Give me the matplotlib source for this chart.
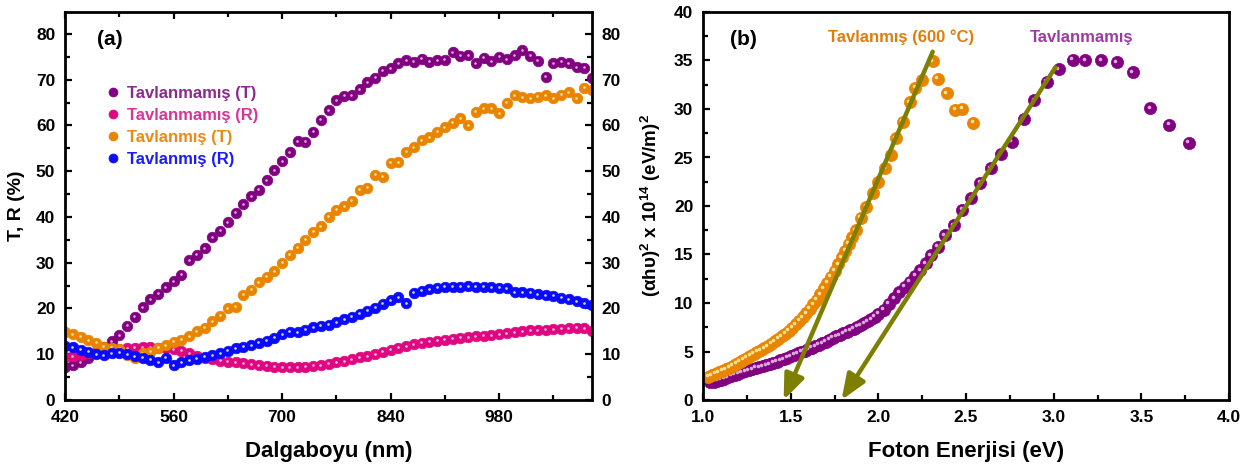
import numpy as np
import matplotlib
matplotlib.use('Agg')
import matplotlib.pyplot as plt
from matplotlib.ticker import MultipleLocator
from matplotlib.transforms import offset_copy

plt.rcParams['font.family'] = ['Liberation Sans', 'DejaVu Sans']
plt.rcParams['font.weight'] = 'bold'
plt.rcParams['axes.labelweight'] = 'bold'
plt.rcParams['mathtext.fontset'] = 'custom'
plt.rcParams['mathtext.rm'] = 'Liberation Sans:bold'
plt.rcParams['mathtext.bf'] = 'Liberation Sans:bold'
plt.rcParams['mathtext.it'] = 'Liberation Sans:bold'

# (a) gecirgenlik / yansima, 420-1100 nm, 10 nm aralik
dalga = np.arange(420, 1101, 10)
tav_yok_T = [7.2, 7.6, 8.3, 9.2, 10.3, 11.6, 12.8, 14.2, 16.2, 18.2,
             20.3, 22.0, 23.2, 24.6, 25.9, 27.4, 30.5, 31.7, 33.2, 35.6,
             37.0, 38.9, 40.9, 42.8, 44.5, 46.0, 48.0, 50.2, 52.2, 54.2,
             56.5, 56.4, 58.6, 61.2, 63.3, 65.5, 66.5, 66.6, 67.9, 69.5,
             70.4, 72.0, 72.5, 73.6, 74.3, 73.9, 74.6, 73.9, 74.3, 74.4,
             76.0, 75.2, 75.4, 73.6, 74.8, 74.0, 75.0, 74.5, 75.4, 76.4,
             75.2, 74.2, 70.6, 73.6, 73.9, 73.6, 72.7, 72.6, 70.4]
tav_yok_R = [9.4, 9.6, 9.9, 10.2, 10.5, 10.8, 11.0, 11.2, 11.3, 11.4,
             11.5, 11.5, 11.4, 11.3, 11.1, 10.8, 10.2, 9.6, 9.2, 8.9,
             8.6, 8.4, 8.2, 8.0, 7.8, 7.6, 7.5, 7.3, 7.2, 7.2,
             7.2, 7.3, 7.5, 7.6, 7.9, 8.2, 8.5, 8.9, 9.3, 9.6,
             10.0, 10.5, 11.0, 11.4, 11.8, 12.2, 12.5, 12.7, 13.0, 13.2,
             13.4, 13.6, 13.7, 13.9, 14.0, 14.2, 14.4, 14.6, 14.8, 15.0,
             15.2, 15.2, 15.3, 15.5, 15.6, 15.7, 15.8, 15.7, 15.0]
tav_T = [14.8, 14.4, 13.8, 13.1, 12.5, 11.6, 11.4, 11.2, 9.8, 9.2,
         10.2, 10.6, 11.4, 12.0, 12.7, 13.2, 13.9, 15.0, 15.8, 17.2,
         18.4, 20.1, 20.4, 23.0, 24.1, 25.7, 26.9, 28.1, 30.0, 31.8,
         33.3, 35.0, 36.8, 38.0, 40.0, 41.6, 42.4, 43.5, 46.0, 46.4,
         49.2, 48.8, 51.8, 52.0, 54.3, 55.2, 56.8, 57.4, 58.6, 59.6,
         60.6, 61.6, 60.1, 63.0, 63.8, 63.8, 62.7, 65.0, 66.6, 66.2,
         66.0, 66.3, 66.6, 66.0, 66.7, 67.3, 66.0, 68.2, 67.8]
tav_R = [11.8, 11.5, 11.0, 10.6, 10.0, 9.8, 10.2, 10.3, 10.0, 9.6,
         9.2, 8.8, 8.3, 9.2, 7.6, 8.3, 8.7, 9.0, 9.4, 9.8,
         10.2, 10.8, 11.3, 11.6, 12.0, 12.5, 13.0, 13.6, 14.4, 14.9,
         14.8, 15.4, 15.9, 16.2, 16.4, 17.0, 17.6, 18.2, 18.9, 19.5,
         20.2, 21.0, 21.8, 22.5, 21.2, 23.4, 23.9, 24.2, 24.5, 24.7,
         24.8, 24.8, 24.9, 24.8, 24.7, 24.6, 24.5, 24.4, 23.5, 23.6,
         23.4, 23.1, 22.9, 22.8, 22.4, 22.0, 21.6, 21.2, 20.8]
etiketler_a = ['Tavlanmamış (T)', 'Tavlanmamış (R)', 'Tavlanmış (T)', 'Tavlanmış (R)']

# (b) (ahv)^2 - foton enerjisi
E_tav = [1.03, 1.05, 1.07, 1.09, 1.11, 1.13, 1.15, 1.17, 1.19, 1.21,
         1.23, 1.25, 1.27, 1.29, 1.31, 1.33, 1.35, 1.37, 1.39, 1.41,
         1.43, 1.45, 1.47, 1.49, 1.51, 1.53, 1.55, 1.57, 1.59, 1.61,
         1.63, 1.65, 1.67, 1.69, 1.71, 1.73, 1.75, 1.77, 1.79, 1.81,
         1.83, 1.85, 1.87, 1.90, 1.93, 1.97, 2.00, 2.04, 2.07, 2.10,
         2.14, 2.18, 2.21, 2.25, 2.31, 2.34, 2.39, 2.44, 2.48, 2.54]
ahv_tav = [2.4, 2.55, 2.7, 2.85, 3.0, 3.15, 3.35, 3.55, 3.75, 3.95,
           4.15, 4.35, 4.55, 4.75, 4.95, 5.15, 5.35, 5.55, 5.8, 6.05,
           6.3, 6.55, 6.85, 7.15, 7.45, 7.8, 8.15, 8.55, 8.95, 9.4,
           9.85, 10.35, 10.9, 11.5, 12.1, 12.7, 13.3, 14.0, 14.7, 15.4,
           16.1, 16.8, 17.5, 18.8, 19.9, 21.3, 22.5, 23.9, 25.3, 27.0,
           28.7, 30.7, 32.2, 33.0, 34.9, 33.1, 31.6, 29.9, 30.0, 28.6]
E_yok = [1.04, 1.06, 1.08, 1.10, 1.12, 1.14, 1.16, 1.18, 1.20, 1.22,
         1.24, 1.26, 1.28, 1.30, 1.32, 1.34, 1.36, 1.38, 1.40, 1.42,
         1.44, 1.46, 1.48, 1.50, 1.52, 1.54, 1.56, 1.58, 1.60, 1.62,
         1.64, 1.66, 1.68, 1.70, 1.72, 1.74, 1.76, 1.78, 1.80, 1.82,
         1.84, 1.86, 1.88, 1.90, 1.92, 1.94, 1.96, 1.98, 2.00, 2.03,
         2.06, 2.09, 2.12, 2.15, 2.18, 2.21, 2.24, 2.27, 2.30, 2.34,
         2.38, 2.43, 2.48, 2.53, 2.58, 2.64, 2.70, 2.76, 2.83, 2.89,
         2.96, 3.03, 3.11, 3.18, 3.27, 3.36, 3.45, 3.55, 3.66, 3.77]
ahv_yok = [1.9, 1.9, 2.0, 2.1, 2.2, 2.35, 2.5, 2.6, 2.7, 2.85,
           2.95, 3.05, 3.15, 3.3, 3.4, 3.5, 3.6, 3.7, 3.85, 3.95,
           4.1, 4.2, 4.35, 4.5, 4.65, 4.8, 4.95, 5.1, 5.25, 5.4,
           5.55, 5.7, 5.85, 6.0, 6.2, 6.4, 6.55, 6.7, 6.9, 7.05,
           7.2, 7.35, 7.55, 7.7, 7.9, 8.1, 8.35, 8.6, 8.9, 9.3,
           9.9, 10.5, 11.1, 11.7, 12.2, 12.8, 13.4, 14.1, 14.9, 15.8,
           17.0, 18.0, 19.6, 20.8, 22.4, 23.9, 25.4, 26.6, 29.0, 30.9,
           32.8, 34.1, 35.1, 35.0, 35.0, 34.8, 33.8, 30.1, 28.4, 26.5]
# dogrusal fit oklari: (ust uc) -> (x ekseni kesisimi)
fit_tav = [(2.31, 35.9), (1.46, 0.0)]
fit_yok = [(3.01, 34.3), (1.79, 0.0)]

mor, pembe, turuncu, mavi = '#800080', '#e0067f', '#e88400', '#0a0aff'
mor_p, pembe_p, turuncu_p, mavi_p = '#d9a9d9', '#f6bfdf', '#f3e394', '#d6d6ff'
zeytin = '#7c7f00'

fig = plt.figure(figsize=(12.59, 4.71), dpi=100)
ax1 = fig.add_axes([65/1259, 71/471, 527/1259, 388/471])
ax2 = fig.add_axes([703/1259, 71/471, 526/1259, 388/471])


def noktalar(ax, x, y, renk, parlak, ms, hs, dx=0, dy=0, label=None):
    h, = ax.plot(x, y, 'o', color=renk, mec=renk, ms=ms, mew=0.5, label=label)
    tr = offset_copy(ax.transData, fig=fig, x=dx, y=dy, units='dots')
    ax.plot(x, y, 'o', color=parlak, ms=hs, mew=0, transform=tr)
    return h


hs = []
hs.append(noktalar(ax1, dalga, tav_yok_T, mor, mor_p, 7.6, 1.9, dx=-0.5, dy=0.5, label=etiketler_a[0]))
hs.append(noktalar(ax1, dalga, tav_yok_R, pembe, pembe_p, 7.6, 1.9, dx=-0.5, dy=0.5, label=etiketler_a[1]))
hs.append(noktalar(ax1, dalga, tav_T, turuncu, turuncu_p, 7.6, 1.9, dx=-0.5, dy=0.5, label=etiketler_a[2]))
hs.append(noktalar(ax1, dalga, tav_R, mavi, mavi_p, 7.6, 1.9, dx=-0.5, dy=0.5, label=etiketler_a[3]))

ax1.set_xlim(420, 1100)
ax1.set_ylim(0, 84.8)
ax1.xaxis.set_major_locator(MultipleLocator(140))
ax1.xaxis.set_minor_locator(MultipleLocator(70))
ax1.yaxis.set_major_locator(MultipleLocator(10))
ax1.yaxis.set_minor_locator(MultipleLocator(5))
ax1.tick_params(which='both', direction='in', top=True, right=True,
                labelright=True, width=1.6, labelsize=12.5, pad=7)
ax1.tick_params(which='major', length=5)
ax1.tick_params(which='minor', length=3.5)
ax1.set_xlabel('Dalgaboyu (nm)', fontsize=16, labelpad=12)
ax1.set_ylabel('T, R (%)', fontsize=14, labelpad=8)
ax1.text(0.061, 0.928, '(a)', transform=ax1.transAxes, fontsize=15,
         va='center', ha='left')
ax1.legend(handles=hs, loc='upper left', bbox_to_anchor=(0.082, 0.809),
           frameon=False, fontsize=12, handlelength=0.6, handletextpad=0.55,
           labelspacing=0.42, borderpad=0, borderaxespad=0, markerscale=0.85,
           labelcolor=['#8a2a8a', '#d8349a', '#e88a14', '#1c1cf5'])

noktalar(ax2, E_yok, ahv_yok, mor, mor_p, 8.8, 2.6, dx=-1.5, dy=1.5)
noktalar(ax2, E_tav, ahv_tav, turuncu, turuncu_p, 8.8, 2.6, dx=-1.5, dy=1.5)
for ust, alt in (fit_tav, fit_yok):
    ax2.annotate('', xy=alt, xytext=ust, annotation_clip=False,
                 arrowprops=dict(arrowstyle='-|>,head_length=0.7,head_width=0.28',
                                 color=zeytin, lw=3.2, shrinkA=0, shrinkB=0,
                                 mutation_scale=22))

ax2.set_xlim(1.0, 4.0)
ax2.set_ylim(0, 40)
ax2.xaxis.set_major_locator(MultipleLocator(0.5))
ax2.xaxis.set_minor_locator(MultipleLocator(0.25))
ax2.yaxis.set_major_locator(MultipleLocator(5))
ax2.yaxis.set_minor_locator(MultipleLocator(2.5))
ax2.tick_params(which='both', direction='in', width=1.6, labelsize=12.5, pad=7)
ax2.tick_params(which='major', length=5)
ax2.tick_params(which='minor', length=3.5)
ax2.set_xlabel('Foton Enerjisi (eV)', fontsize=16, labelpad=12)
ax2.set_ylabel(r'(αhυ)$^{\mathbf{2}}$ x 10$^{\mathbf{14}}$ (eV/m)$^{\mathbf{2}}$',
               fontsize=13.5, labelpad=8)
ax2.text(0.051, 0.928, '(b)', transform=ax2.transAxes, fontsize=15,
         va='center', ha='left')
ax2.text(1.713, 37.4, 'Tavlanmış (600 °C)', color='#e07d0a', fontsize=12,
         va='center', ha='left')
ax2.text(2.865, 37.4, 'Tavlanmamış', color='#9b3c9f', fontsize=12,
         va='center', ha='left')

for ax in (ax1, ax2):
    for s in ax.spines.values():
        s.set_linewidth(2.0)

fig.savefig('out.png', dpi=100)
